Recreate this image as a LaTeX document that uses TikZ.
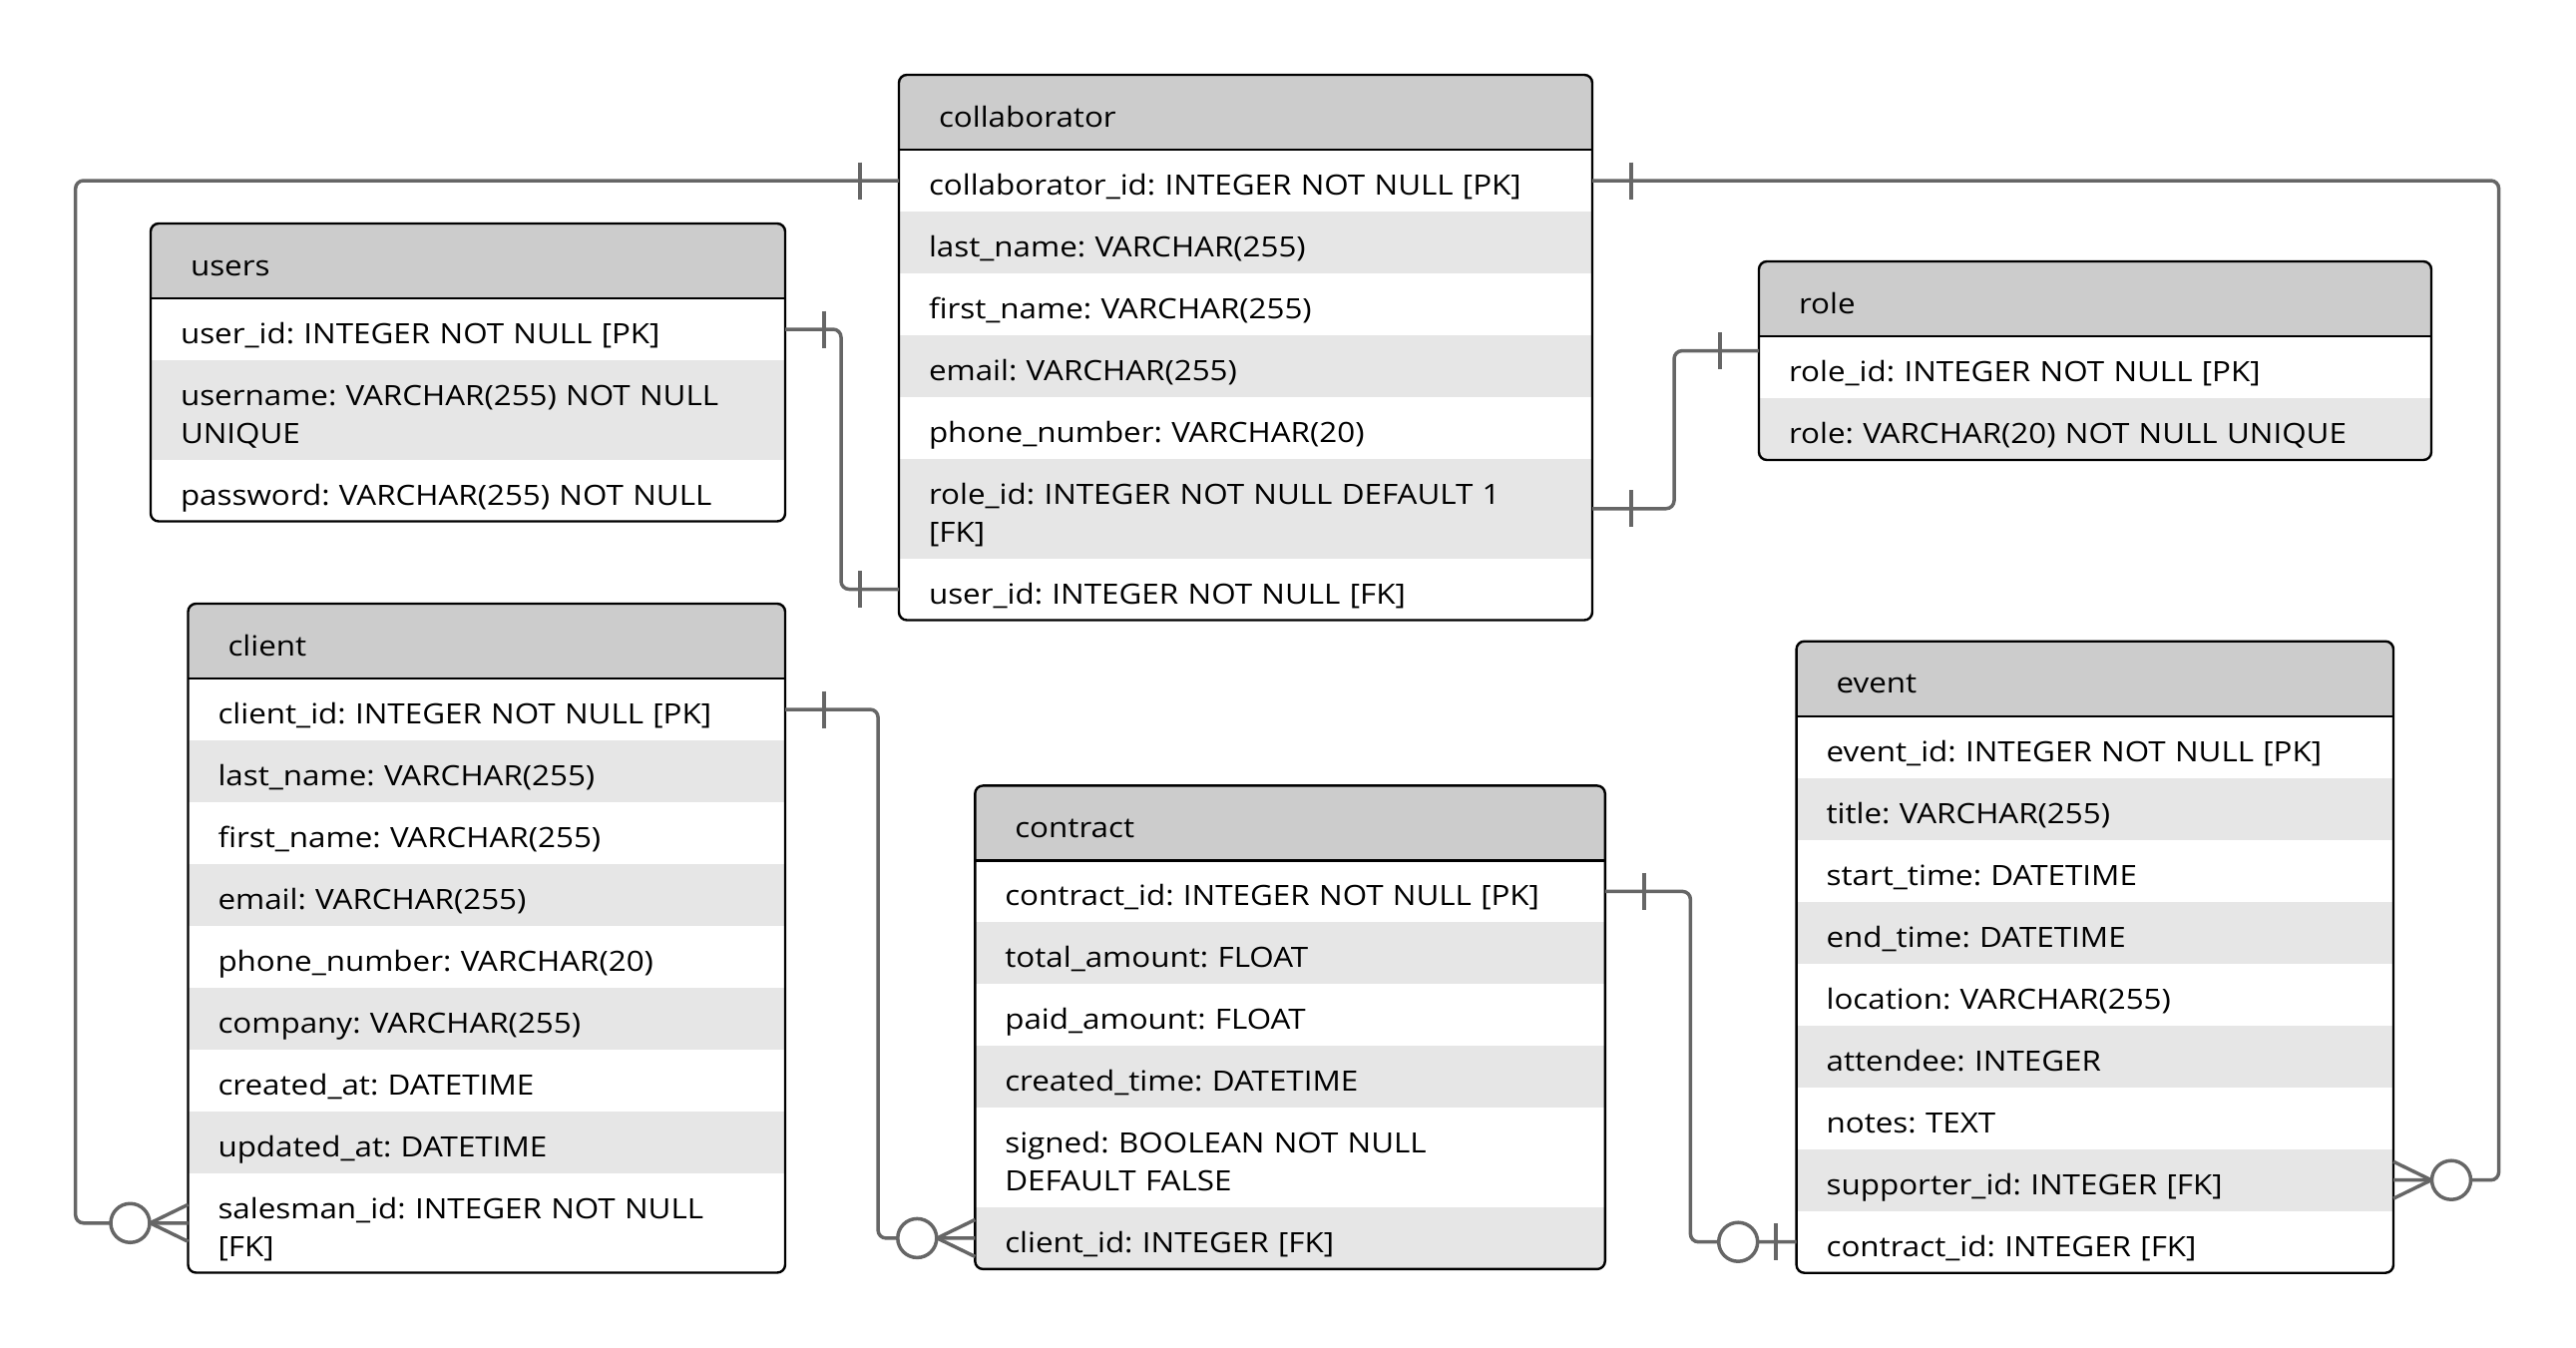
\documentclass[tikz,border=0pt]{standalone}
\usepackage{fontspec}
\setmainfont{Open Sans}[FakeStretch=1.12]
\usetikzlibrary{positioning}
\usetikzlibrary{calc}
\usetikzlibrary{backgrounds}
\frenchspacing

\definecolor{headgray}{HTML}{CCCCCC}
\definecolor{rowgray}{HTML}{E6E6E6}
\definecolor{linkgray}{HTML}{666666}

\tikzset{
  enttext/.style={inner ysep=0pt, outer sep=0pt, align=left,
    font=\fontsize{14}{18.75}\selectfont,
    execute at begin node={\rule[-4.5pt]{0pt}{23.5pt}},
    execute at end node={\rule[-4.5pt]{0pt}{4.5pt}}},
  enthead/.style={enttext, anchor=north west, inner xsep=20pt, minimum height=37.5pt},
  entrow/.style={enttext, inner xsep=15pt},
  entborder/.style={draw=black, line width=1.2pt, rounded corners=4pt},
  link/.style={draw=linkgray, line width=1.75pt, rounded corners=4pt},
  linkmark/.style={draw=linkgray, line width=1.75pt},
}

% one table: name, top left, width (pt), title, rows text/lines
\newcommand\entity[5]{%
  \pgfmathsetmacro\headtw{#3-40}
  \pgfmathsetmacro\rowtw{#3-30}
  \node[enthead, text width=\headtw pt] (#1-h) at (#2) {#4};
  \foreach \txt/\nl [count=\i] in {#5} {
    \pgfmathtruncatemacro\prev{\i-1}
    \ifnum\i=1 \def\above{#1-h}\else\edef\above{#1-\prev}\fi
    \node[entrow, text width=\rowtw pt, minimum height={31pt+(\nl-1)*18.75pt},
      below=0pt of \above] (#1-\i) {\txt};
    \xdef\lastrow{\i}
  }
  \begin{pgfonlayer}{background}
    \begin{scope}
      \clip[rounded corners=4pt] (#1-h.north west) rectangle (#1-\lastrow.south east);
      \fill[headgray] (#1-h.north west) rectangle (#1-h.south east);
      \foreach \j in {1,...,\lastrow} {
        \ifodd\j\else \fill[rowgray] (#1-\j.north west) rectangle (#1-\j.south east);\fi
      }
    \end{scope}
  \end{pgfonlayer}
  \draw[entborder] (#1-h.north west) rectangle (#1-\lastrow.south east);
  \draw[draw=black, line width=1.2pt] (#1-h.south west) -- (#1-h.south east);
}

% markers: anchor, outward direction (-1 left, 1 right)
\newcommand\onebar[2]{%
  \draw[linkmark] ([xshift=#2*19.5pt, yshift=9.25pt]#1) -- ++(0pt,-18.5pt);}
\newcommand\zeroone[2]{%
  \draw[linkmark] ([xshift=#2*10.3pt, yshift=9.25pt]#1) -- ++(0pt,-18.5pt);
  \draw[linkmark, fill=white] ([xshift=#2*29.2pt]#1) circle[radius=9.75pt];}
\newcommand\zeromany[2]{%
  \draw[linkmark] ([yshift=9.25pt]#1) -- ([xshift=#2*19pt]#1) -- ([yshift=-9.25pt]#1);
  \draw[linkmark, fill=white] ([xshift=#2*29pt]#1) circle[radius=9.75pt];}

\begin{document}
\begin{tikzpicture}[x=0.5pt, y=-0.5pt]

\useasboundingbox (0,0) rectangle (2582,1350);

% tables
\entity{collab}{901,75}{347.5}{collaborator}{
  collaborator\_id: INTEGER NOT NULL [PK]/1,
  last\_name: VARCHAR(255)/1,
  first\_name: VARCHAR(255)/1,
  email: VARCHAR(255)/1,
  phone\_number: VARCHAR(20)/1,
  role\_id: INTEGER NOT NULL DEFAULT 1\\{[FK]}/2,
  user\_id: INTEGER NOT NULL [FK]/1}

\entity{users}{151,224}{318}{users}{
  user\_id: INTEGER NOT NULL [PK]/1,
  username: VARCHAR(255) NOT NULL\\UNIQUE/2,
  password: VARCHAR(255) NOT NULL/1}

\entity{role}{1763,262}{337}{role}{
  role\_id: INTEGER NOT NULL [PK]/1,
  role: VARCHAR(20) NOT NULL UNIQUE/1}

\entity{client}{188.5,605}{299.25}{client}{
  client\_id: INTEGER NOT NULL [PK]/1,
  last\_name: VARCHAR(255)/1,
  first\_name: VARCHAR(255)/1,
  email: VARCHAR(255)/1,
  phone\_number: VARCHAR(20)/1,
  company: VARCHAR(255)/1,
  created\_at: DATETIME/1,
  updated\_at: DATETIME/1,
  salesman\_id: INTEGER NOT NULL\\{[FK]}/2}

\entity{contract}{977.3,787.4}{315.75}{contract}{
  contract\_id: INTEGER NOT NULL [PK]/1,
  total\_amount: FLOAT/1,
  paid\_amount: FLOAT/1,
  created\_time: DATETIME/1,
  signed: BOOLEAN NOT NULL\\DEFAULT FALSE/2,
  client\_id: INTEGER [FK]/1}

\entity{event}{1800.6,642.7}{299.2}{event}{
  event\_id: INTEGER NOT NULL [PK]/1,
  title: VARCHAR(255)/1,
  start\_time: DATETIME/1,
  end\_time: DATETIME/1,
  location: VARCHAR(255)/1,
  attendee: INTEGER/1,
  notes: TEXT/1,
  supporter\_id: INTEGER [FK]/1,
  contract\_id: INTEGER [FK]/1}

\coordinate (role-port) at ([yshift=8.2pt]role-1.west);

% relations
\draw[link] (collab-1.west) -| ([xshift=-56.4pt]client-9.west) -- (client-9.west);
\onebar{collab-1.west}{-1}
\zeromany{client-9.west}{-1}

\draw[link] (users-1.east) -| ([xshift=-29pt]collab-7.west) -- (collab-7.west);
\onebar{users-1.east}{1}
\onebar{collab-7.west}{-1}

\draw[link] (collab-1.east) -| ([xshift=52.8pt]event-8.east) -- (event-8.east);
\onebar{collab-1.east}{1}
\zeromany{event-8.east}{1}

\draw[link] (collab-6.east) -| ([xshift=-42.5pt]role-port) -- (role-port);
\onebar{collab-6.east}{1}
\onebar{role-port}{-1}

\draw[link] (client-1.east) -| ([xshift=-48.6pt]contract-6.west) -- (contract-6.west);
\onebar{client-1.east}{1}
\zeromany{contract-6.west}{-1}

\draw[link] (contract-1.east) -| ([xshift=-53.1pt]event-9.west) -- (event-9.west);
\onebar{contract-1.east}{1}
\zeroone{event-9.west}{-1}
\end{tikzpicture}
\end{document}
